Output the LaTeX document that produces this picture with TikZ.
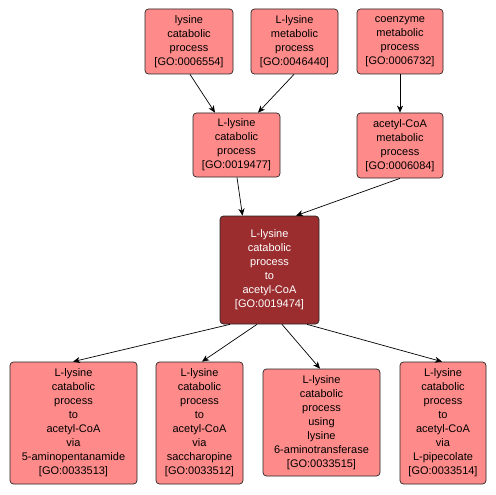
\documentclass[tikz,border=0pt]{standalone}
\usepackage{fontspec}
\setmainfont{Liberation Sans}
\usetikzlibrary{arrows.meta}
\definecolor{lightgo}{HTML}{FF8A8A}
\definecolor{darkgo}{HTML}{9B2D2F}
\tikzset{
  gobox/.style={draw=black!85, line width=0.7pt, rounded corners=3.5pt, fill=lightgo,
    inner sep=0pt, align=center, font=\fontsize{11}{14}\selectfont},
  gomain/.style={gobox, fill=darkgo, text=white},
  goarr/.style={draw=black, line width=0.7pt, -{Stealth[length=7pt,width=6pt,inset=2pt]}}
}
\begin{document}
\begin{tikzpicture}[x=1pt,y=-1pt]
\useasboundingbox (0,0) rectangle (496,495);
% top row
\node[gobox, minimum width=88pt, minimum height=65pt] (n6554) at (189,41.5) {lysine\\catabolic\\process\\{[GO:0006554]}};
\node[gobox, minimum width=87pt, minimum height=65pt] (n46440) at (294.5,41.5) {L-lysine\\metabolic\\process\\{[GO:0046440]}};
\node[gobox, minimum width=86pt, minimum height=65pt] (n6732) at (400,41.5) {coenzyme\\metabolic\\process\\{[GO:0006732]}};
% middle row
\node[gobox, minimum width=87pt, minimum height=64pt] (n19477) at (236.5,145) {L-lysine\\catabolic\\process\\{[GO:0019477]}};
\node[gobox, minimum width=86pt, minimum height=65pt] (n6084) at (400,145.5) {acetyl-CoA\\metabolic\\process\\{[GO:0006084]}};
% center
\node[gomain, minimum width=99pt, minimum height=108pt] (n19474) at (269.5,270) {L-lysine\\catabolic\\process\\to\\acetyl-CoA\\{[GO:0019474]}};
% bottom row
\node[gobox, minimum width=127pt, minimum height=122pt] (n33513) at (73.5,423) {L-lysine\\catabolic\\process\\to\\acetyl-CoA\\via\\5-aminopentanamide\\{[GO:0033513]}};
\node[gobox, minimum width=87pt, minimum height=122pt] (n33512) at (199.5,423) {L-lysine\\catabolic\\process\\to\\acetyl-CoA\\via\\saccharopine\\{[GO:0033512]}};
\node[gobox, minimum width=117pt, minimum height=107pt] (n33515) at (321.5,422.5) {L-lysine\\catabolic\\process\\using\\lysine\\6-aminotransferase\\{[GO:0033515]}};
\node[gobox, minimum width=86pt, minimum height=122pt] (n33514) at (443,423) {L-lysine\\catabolic\\process\\to\\acetyl-CoA\\via\\L-pipecolate\\{[GO:0033514]}};
% edges
\draw[goarr] ([xshift=1pt]n6554.south) -- ([xshift=-21.5pt]n19477.north);
\draw[goarr] ([xshift=-0.5pt]n46440.south) -- ([xshift=21.5pt]n19477.north);
\draw[goarr] (n6732.south) -- (n6084.north);
\draw[goarr] ([xshift=0.5pt]n19477.south) -- ([xshift=-27pt]n19474.north);
\draw[goarr] (n6084.south) -- ([xshift=26.5pt]n19474.north);
\draw[goarr] ([xshift=-39.5pt]n19474.south) -- ([xshift=-0.5pt]n33513.north);
\draw[goarr] ([xshift=-12.5pt]n19474.south) -- ([xshift=2.5pt]n33512.north);
\draw[goarr] ([xshift=12.5pt]n19474.south) -- ([xshift=-1.5pt]n33515.north);
\draw[goarr] ([xshift=37.5pt]n19474.south) -- ([xshift=-1pt]n33514.north);
\end{tikzpicture}
\end{document}
